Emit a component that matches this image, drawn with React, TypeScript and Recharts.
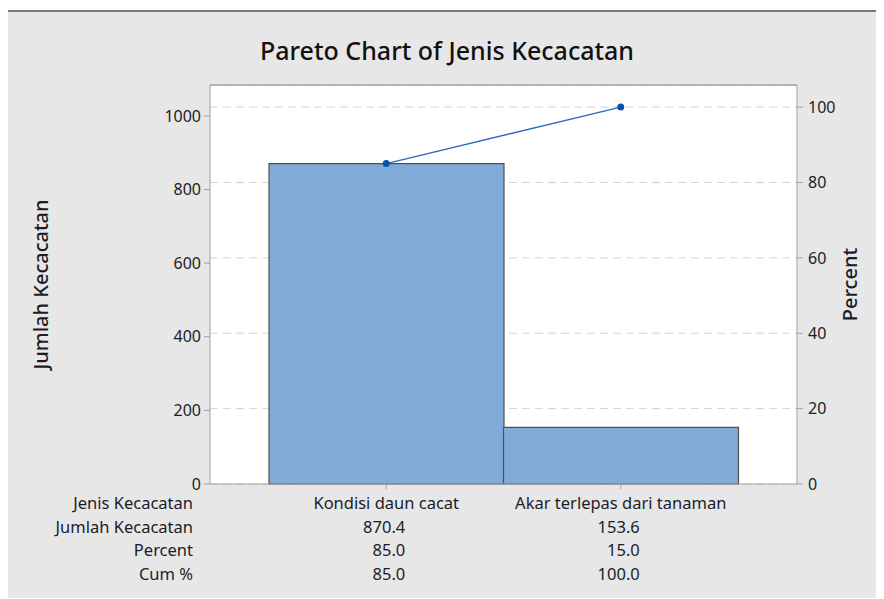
import { ComposedChart, Bar, Line, XAxis, YAxis, CartesianGrid, ReferenceLine } from 'recharts';

const categories = ['Kondisi daun cacat', 'Akar terlepas dari tanaman'];
const counts = [870.4, 153.6];
const percents = [85.0, 15.0];
const cumPercents = [85.0, 100.0];
const countTicks = [0, 200, 400, 600, 800, 1000];
const percentTicks = [0, 20, 40, 60, 80, 100];
const rowLabels = ['Jenis Kecacatan', 'Jumlah Kecacatan', 'Percent', 'Cum %'];

const total = counts.reduce((s, v) => s + v, 0);
const countMax = 1084;
const percentMax = (countMax / total) * 100;

const data = categories.map((name, i) => ({
  name,
  count: counts[i],
  percent: percents[i],
  cum: cumPercents[i],
}));

const FONT = '"Noto Sans", sans-serif';
const TEXT = '#1c1c28';
const AXIS = '#a0a0a0';

const TableTick = (props: any) => {
  const { x, y, index } = props;
  const row = data[index];
  const base = y + 18;
  const step = 23.5;
  return (
    <g fontFamily={FONT} fontSize={16.5} fill={TEXT}>
      {index === 0 &&
        rowLabels.map((label, r) => (
          <text key={label} x={185} y={base + r * step} textAnchor="end">
            {label}
          </text>
        ))}
      <text x={x} y={base} textAnchor="middle">{row.name}</text>
      <text x={x + 19} y={base + step} textAnchor="end">{row.count.toFixed(1)}</text>
      <text x={x + 19} y={base + step * 2} textAnchor="end">{row.percent.toFixed(1)}</text>
      <text x={x + 19} y={base + step * 3} textAnchor="end">{row.cum.toFixed(1)}</text>
    </g>
  );
};

export default function App() {
  return (
    <div style={{ paddingTop: 2 }}>
      <div
        style={{
          width: 876,
          height: 586,
          background: '#e7e7e7',
          borderTop: '2px solid #7a7a7a',
          position: 'relative',
        }}
      >
        <div
          style={{
            position: 'absolute',
            top: 21,
            left: 0,
            width: 878,
            textAlign: 'center',
            fontFamily: FONT,
            fontSize: 25,
            fontWeight: 500,
            color: '#111',
          }}
        >
          Pareto Chart of Jenis Kecacatan
        </div>
        <ComposedChart
          width={876}
          height={586}
          data={data}
          margin={{ top: 73, right: 0, bottom: 0, left: 0 }}
          barCategoryGap={0}
        >
          <CartesianGrid
            yAxisId="right"
            vertical={false}
            fill="#ffffff"
            stroke="#d4d4d4"
            strokeDasharray="8 5"
          />
          <ReferenceLine yAxisId="right" y={percentMax} stroke={AXIS} strokeWidth={1.5} />
          <XAxis
            dataKey="name"
            height={114}
            padding={{ left: 59, right: 59 }}
            interval={0}
            tickSize={5}
            axisLine={{ stroke: AXIS }}
            tickLine={{ stroke: AXIS }}
            tick={<TableTick />}
          />
          <YAxis
            yAxisId="left"
            width={202}
            domain={[0, countMax]}
            ticks={countTicks}
            tickSize={6}
            tickMargin={3}
            axisLine={{ stroke: AXIS }}
            tickLine={{ stroke: AXIS }}
            tick={{ fill: TEXT, fontSize: 16, fontFamily: FONT }}
            label={{
              value: 'Jumlah Kecacatan',
              angle: -90,
              position: 'insideLeft',
              offset: 33,
              style: { textAnchor: 'middle', fill: TEXT, fontSize: 20, fontFamily: FONT, fontWeight: 500 },
            }}
          />
          <YAxis
            yAxisId="right"
            orientation="right"
            width={87}
            domain={[0, percentMax]}
            ticks={percentTicks}
            tickSize={6}
            tickMargin={5}
            axisLine={{ stroke: AXIS }}
            tickLine={{ stroke: AXIS }}
            tick={{ fill: TEXT, fontSize: 16, fontFamily: FONT }}
            label={{
              value: 'Percent',
              angle: -90,
              position: 'insideRight',
              offset: 34,
              style: { textAnchor: 'middle', fill: TEXT, fontSize: 20, fontFamily: FONT, fontWeight: 500 },
            }}
          />
          <Bar
            yAxisId="left"
            dataKey="count"
            fill="#82aad9"
            stroke="#505050"
            strokeWidth={1.2}
            isAnimationActive={false}
          />
          <Line
            yAxisId="right"
            dataKey="cum"
            stroke="#2a6cb8"
            strokeWidth={1.3}
            dot={{ r: 3.5, fill: '#0656a8', stroke: '#0656a8', strokeWidth: 0 }}
            isAnimationActive={false}
          />
        </ComposedChart>
      </div>
    </div>
  );
}
